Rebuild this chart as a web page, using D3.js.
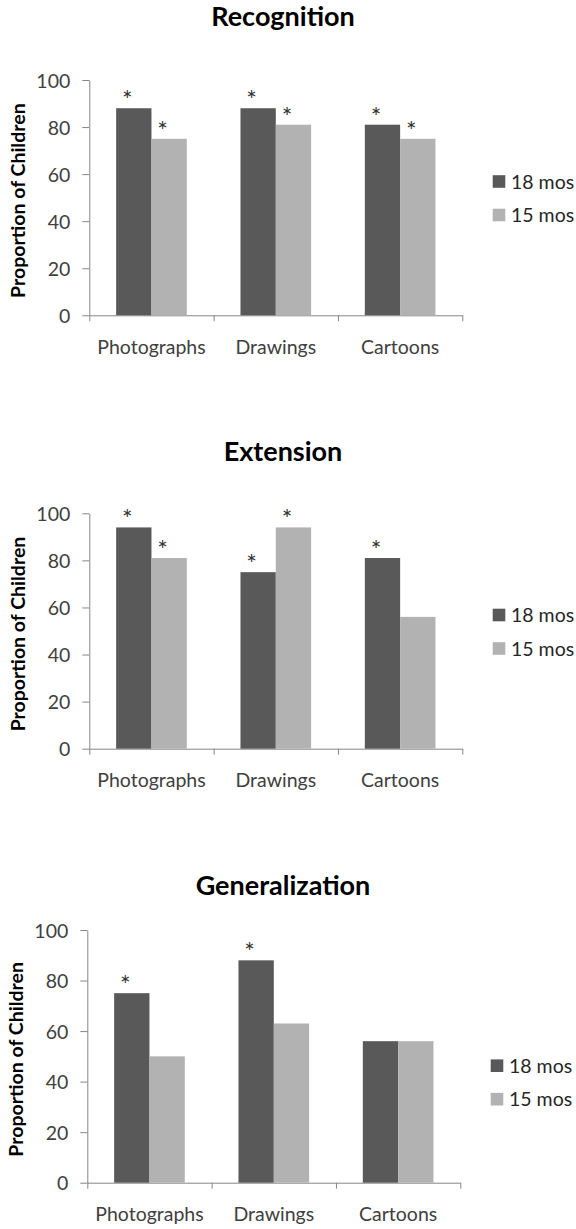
<!DOCTYPE html>
<html>
<head>
<meta charset="utf-8">
<script src="https://cdn.jsdelivr.net/npm/d3@7"></script>
<style>
  body { margin: 0; background: #fff; }
  svg { display: block; }
</style>
</head>
<body>
<script>
// data
const categories = ['Photographs', 'Drawings', 'Cartoons'];
const seriesNames = ['18 mos', '15 mos'];
const panelTitles = ['Recognition', 'Extension', 'Generalization'];
const yTicks = [0, 20, 40, 60, 80, 100];

const recognition18 = [88, 88, 81];
const recognition15 = [75, 81, 75];
const extension18 = [94, 75, 81];
const extension15 = [81, 94, 56];
const generalization18 = [75, 88, 56];
const generalization15 = [50, 63, 56];

// which bars carry a significance star
const recognitionStars = [[true, true, true], [true, true, true]];
const extensionStars = [[true, true, true], [true, true, false]];
const generalizationStars = [[true, true, false], [false, false, false]];

const values = [
  [recognition18, recognition15],
  [extension18, extension15],
  [generalization18, generalization15]
];
const stars = [recognitionStars, extensionStars, generalizationStars];

const colors = ['#595959', '#b2b2b2'];
const font = "Lato, 'Open Sans', sans-serif";
const fs = 19.5;

// layout of each panel
const panels = [
  {top: 80, bottom: 315.3, left: 89.3, right: 462.3, titleY: 26, legendY: 181.5},
  {top: 513.3, bottom: 748.7, left: 89.3, right: 462.3, titleY: 461, legendY: 615},
  {top: 930, bottom: 1182.7, left: 87.3, right: 460.3, titleY: 895, legendY: 1065.7}
];

const svg = d3.select('body').append('svg')
  .attr('width', 576)
  .attr('height', 1229);

svg.append('rect').attr('width', 576).attr('height', 1229).attr('fill', '#fff');

panels.forEach((p, i) => {
  const g = svg.append('g');

  const x0 = d3.scaleBand().domain(categories).range([p.left, p.right]);
  const x1 = d3.scaleBand().domain(seriesNames).range([0, x0.bandwidth()]).paddingOuter(0.76);
  const y = d3.scaleLinear().domain([0, 100]).range([p.bottom, p.top]);
  const xb = d3.scaleLinear().domain([0, categories.length]).range([p.left, p.right]);

  // title
  g.append('text')
    .text(panelTitles[i])
    .attr('x', 283)
    .attr('y', p.titleY)
    .attr('text-anchor', 'middle')
    .style('font-family', font)
    .style('font-weight', 'bold')
    .style('font-size', '27px')
    .attr('fill', '#000');

  // y axis
  const yaxis = g.append('g')
    .attr('transform', 'translate(' + p.left + ',0)')
    .attr('color', '#868686')
    .call(d3.axisLeft(y).tickValues(yTicks).tickSize(7).tickSizeOuter(0).tickPadding(12));
  yaxis.selectAll('text')
    .attr('fill', '#404040')
    .attr('dy', '0.36em')
    .style('font-family', font)
    .style('font-size', fs + 'px');

  // x axis with boundary ticks
  g.append('g')
    .attr('transform', 'translate(0,' + p.bottom + ')')
    .attr('color', '#868686')
    .call(d3.axisBottom(xb).tickValues(d3.range(categories.length + 1)).tickSize(6).tickSizeOuter(0).tickFormat(''));

  const xlab = g.append('g')
    .attr('transform', 'translate(0,' + p.bottom + ')')
    .call(d3.axisBottom(x0).tickSize(0));
  xlab.select('.domain').remove();
  xlab.selectAll('text')
    .attr('y', 38.5)
    .attr('dy', 0)
    .attr('fill', '#404040')
    .style('font-family', font)
    .style('font-size', fs + 'px');

  // y title
  g.append('text')
    .text('Proportion of Children')
    .attr('transform', 'translate(' + (p.left - 71) + ',' + ((p.top + p.bottom) / 2 + 3) + ') rotate(-90)')
    .attr('text-anchor', 'middle')
    .attr('dy', '0.36em')
    .style('font-family', font)
    .style('font-weight', 'bold')
    .style('font-size', fs + 'px')
    .attr('fill', '#000');

  // bars
  const rows = categories.map((c, j) => ({
    cat: c,
    bars: seriesNames.map((s, k) => ({series: s, k: k, value: values[i][k][j], star: stars[i][k][j]}))
  }));

  const grp = g.selectAll('.grp')
    .data(rows)
    .enter().append('g')
    .attr('class', 'grp')
    .attr('transform', d => 'translate(' + x0(d.cat) + ',0)');

  grp.selectAll('rect')
    .data(d => d.bars)
    .enter().append('rect')
    .attr('x', d => x1(d.series))
    .attr('y', d => y(d.value))
    .attr('width', x1.bandwidth())
    .attr('height', d => y(0) - y(d.value))
    .attr('fill', d => colors[d.k]);

  grp.selectAll('.star')
    .data(d => d.bars.filter(b => b.star))
    .enter().append('text')
    .attr('class', 'star')
    .text('*')
    .attr('x', d => x1(d.series) + x1.bandwidth() / 2 - 6.5)
    .attr('y', d => y(d.value) + 1)
    .attr('text-anchor', 'middle')
    .style('font-family', font)
    .style('font-size', '25px')
    .attr('fill', '#333');

  // legend
  const leg = g.selectAll('.leg')
    .data(seriesNames)
    .enter().append('g')
    .attr('class', 'leg')
    .attr('transform', (d, k) => 'translate(' + (p.left + 403.4) + ',' + (p.legendY + k * 33.5) + ')');

  leg.append('rect')
    .attr('x', 0)
    .attr('y', -6.3)
    .attr('width', 12.6)
    .attr('height', 12.6)
    .attr('fill', (d, k) => colors[k]);

  leg.append('text')
    .text(d => d)
    .attr('x', 18.3)
    .attr('dy', '0.36em')
    .style('font-family', font)
    .style('font-size', fs + 'px')
    .attr('fill', '#262626');
});
</script>
</body>
</html>
